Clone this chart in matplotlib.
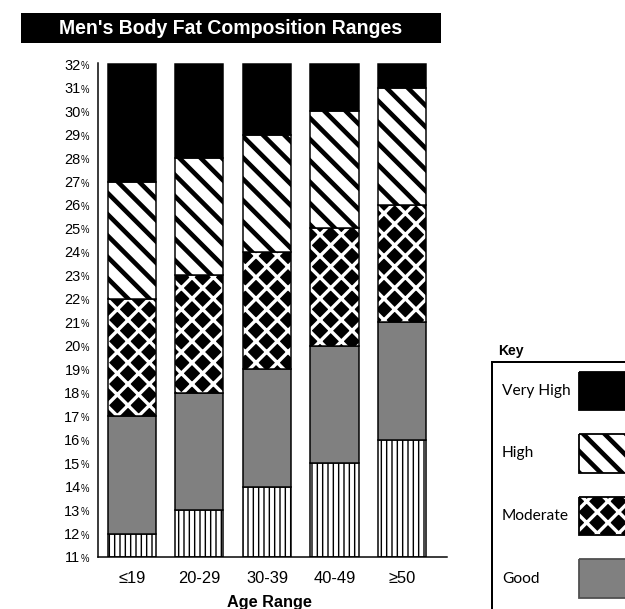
import matplotlib
matplotlib.use("Agg")
import matplotlib.pyplot as plt
from matplotlib.patches import Rectangle

# body fat ranges by age (men), upper bound of each band in %
categories = ["≤19", "20-29", "30-39", "40-49", "≥50"]
levels = ["Excellent", "Good", "Moderate", "High", "Very High"]
key_levels = ["Very High", "High", "Moderate", "Good"]
base = 11
excellent_top = [12, 13, 14, 15, 16]
good_top = [17, 18, 19, 20, 21]
moderate_top = [22, 23, 24, 25, 26]
high_top = [27, 28, 29, 30, 31]
very_high_top = [32, 32, 32, 32, 32]
yticks = list(range(11, 33))

W, H, DPI = 625, 609, 64


def pt(px):
    # pixels -> points at this dpi
    return px * 72 / DPI


def hatch_lw(artist, lw):
    # hatch line width per artist (rcParam is read when the gc is made)
    if hasattr(artist, "set_hatch_linewidth"):
        artist.set_hatch_linewidth(lw)
    orig = artist.draw

    def draw(renderer, *a, **k):
        with plt.rc_context({"hatch.linewidth": lw}):
            return orig(renderer, *a, **k)
    artist.draw = draw


styles = {
    "Excellent": dict(face="white", hatch="||", hcolor="black", hlw=pt(1.4)),
    "Good": dict(face="#808080", hatch=None, hcolor="#808080", hlw=pt(1)),
    "Moderate": dict(face="black", hatch="x", hcolor="white", hlw=pt(3.4)),
    "High": dict(face="white", hatch="\\", hcolor="black", hlw=pt(4.6)),
    "Very High": dict(face="black", hatch=None, hcolor="black", hlw=pt(1)),
}
key_edges = {"Very High": "black", "High": "black", "Moderate": "black",
             "Good": "#505050"}

plt.rcParams["font.family"] = ["Liberation Sans", "DejaVu Sans"]

fig = plt.figure(figsize=(W / DPI, H / DPI), dpi=DPI)
ax = fig.add_axes([98 / W, (H - 557) / H, (447 - 98) / W, (557 - 63) / H])

x = list(range(len(categories)))
width = 0.714
bottom = [base] * len(categories)
tops = [excellent_top, good_top, moderate_top, high_top, very_high_top]
for name, top in zip(levels, tops):
    st = styles[name]
    h = [t - b for t, b in zip(top, bottom)]
    bars = ax.bar(x, h, width, bottom=bottom, color=st["face"],
                  edgecolor=st["hcolor"], hatch=st["hatch"], linewidth=0)
    for b in bars:
        hatch_lw(b, st["hlw"])
    ax.bar(x, h, width, bottom=bottom, fill=False, edgecolor="black",
           linewidth=pt(1.5))
    bottom = top

ax.set_xlim(-0.5, 4.665)
ax.set_ylim(11, 32.05)
ax.set_xticks(x)
ax.set_xticklabels(categories, fontsize=pt(16.5))
ax.set_yticks(yticks)
ax.set_yticklabels([str(v) for v in yticks], fontsize=pt(14.5))
ax.tick_params(axis="y", length=0, pad=pt(17.5))
ax.tick_params(axis="x", length=0, pad=pt(14))
for v in yticks:
    ax.annotate("%", xy=(0, v), xycoords=("axes fraction", "data"),
                xytext=(-17, -5), textcoords="offset pixels",
                fontsize=pt(9.5), ha="left", va="baseline")
for s in ["top", "right"]:
    ax.spines[s].set_visible(False)
for s in ["left", "bottom"]:
    ax.spines[s].set_linewidth(pt(1.5))

ax.set_xlabel("Age Range", fontsize=pt(16.3), fontweight="bold")
ax.xaxis.set_label_coords((269.5 - 98) / 349, -(595 - 557) / 494)

# title bar
fig.add_artist(Rectangle((21 / W, 1 - 43 / H), 420 / W, 30 / H,
                         transform=fig.transFigure, facecolor="black",
                         edgecolor="none"))
fig.text(231 / W, 1 - 28.5 / H, "Men's Body Fat Composition Ranges",
         color="white", fontsize=pt(19.5), fontweight="bold",
         ha="center", va="center")

# key panel, runs off the right and bottom edges of the picture
fig.text(498 / W, 1 - 355 / H, "Key", fontsize=pt(14), fontweight="bold",
         ha="left", va="baseline")
kx0, kx1, ky0, ky1 = 492, 720, 362, 720
kax = fig.add_axes([kx0 / W, (H - ky1) / H, (kx1 - kx0) / W, (ky1 - ky0) / H])
kax.set_xlim(kx0, kx1)
kax.set_ylim(ky1, ky0)
kax.set_xticks([])
kax.set_yticks([])
for s in ["right", "bottom"]:
    kax.spines[s].set_visible(False)
for s in ["left", "top"]:
    kax.spines[s].set_linewidth(pt(2))

row0, pitch, sw_h = 390.8, 62.6, 38.6
for i, name in enumerate(key_levels):
    st = styles[name]
    cy = row0 + i * pitch
    kax.text(502, cy, name, family=["Lato", "DejaVu Sans"], fontsize=pt(15.5),
             ha="left", va="center")
    sw = Rectangle((579, cy - sw_h / 2), 90, sw_h, facecolor=st["face"],
                   edgecolor=st["hcolor"], hatch=st["hatch"], linewidth=0)
    kax.add_patch(sw)
    hatch_lw(sw, st["hlw"])
    kax.add_patch(Rectangle((579, cy - sw_h / 2), 90, sw_h, fill=False,
                            edgecolor=key_edges[name], linewidth=pt(1.8)))

fig.savefig("out.png", dpi=DPI)
